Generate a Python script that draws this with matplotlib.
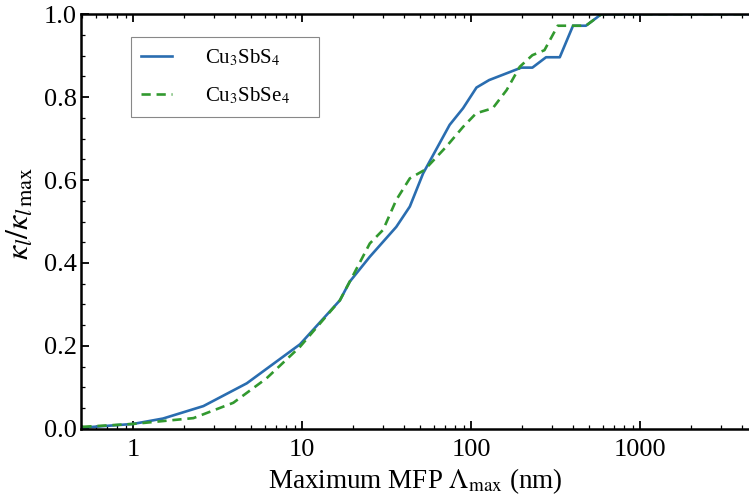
import numpy as np
import matplotlib
matplotlib.use("Agg")
import matplotlib.pyplot as plt
from matplotlib.ticker import MultipleLocator, LogLocator, NullFormatter, FixedLocator, FixedFormatter

plt.rcParams['font.family'] = ['Liberation Serif', 'DejaVu Serif']
plt.rcParams['mathtext.fontset'] = 'stix'

# Cu3SbS4 cumulative kappa vs max MFP
mfp_s = [0.5, 1.0, 1.5, 2.6, 4.7, 9.7, 16.7, 19.1, 25.1, 36, 43.3, 51.9, 74.5,
         89.4, 107.4, 127.6, 197.7, 230, 277, 334, 400, 477, 589, 5000]
k_s = [0.003, 0.012, 0.025, 0.055, 0.11, 0.204, 0.31, 0.355, 0.415, 0.487,
       0.536, 0.616, 0.733, 0.773, 0.823, 0.841, 0.871, 0.871, 0.896, 0.896,
       0.972, 0.972, 1.0, 1.0]

# Cu3SbSe4
mfp_se = [0.5, 1.0, 2.27, 3.91, 6.15, 9.7, 16.7, 19.1, 25.1, 30.1, 36, 43.3,
          52.8, 71, 89.4, 107, 134, 162, 193.6, 230, 271, 325, 477, 589, 5000]
k_se = [0.005, 0.012, 0.026, 0.063, 0.122, 0.198, 0.31, 0.355, 0.447, 0.48,
        0.552, 0.604, 0.624, 0.68, 0.728, 0.761, 0.773, 0.817, 0.873, 0.901,
        0.913, 0.972, 0.972, 1.0, 1.0]

fig = plt.figure(figsize=(7.49, 5.04), dpi=100)
ax = fig.add_axes([0.108, 0.149, 0.892, 0.823])

ax.plot(mfp_s, k_s, color='#2a6db0', lw=1.9, label=r'Cu$_3$SbS$_4$      ')
ax.plot(mfp_se, k_se, color='#32992f', lw=1.9, ls=(0, (3.5, 2.2)),
        label=r'Cu$_3$SbSe$_4$    ')

ax.set_xscale('log')
ax.set_xlim(0.49, 4400)
ax.set_ylim(0, 1.0)

ax.xaxis.set_major_locator(FixedLocator([1, 10, 100, 1000]))
ax.xaxis.set_major_formatter(FixedFormatter(['1', '10', '100', '1000']))
ax.xaxis.set_minor_locator(LogLocator(base=10, subs=np.arange(2, 10)))
ax.xaxis.set_minor_formatter(NullFormatter())
ax.yaxis.set_major_locator(MultipleLocator(0.2))
ax.yaxis.set_minor_locator(MultipleLocator(0.05))
ax.yaxis.set_major_formatter(plt.FuncFormatter(lambda v, p: f'{v:.1f}'))

ax.tick_params(which='both', direction='in', top=True, right=False,
               labelsize=19, width=1.3, colors='black')
ax.tick_params(which='major', length=6)
ax.tick_params(which='minor', length=3, width=0.9)
ax.tick_params(axis='x', pad=7)
ax.tick_params(axis='y', pad=3)

for s in ['left', 'bottom', 'top']:
    ax.spines[s].set_linewidth(1.8)
ax.spines['right'].set_visible(False)

ax.set_xlabel(r'Maximum MFP $\Lambda_{\rm max}$ (nm)', fontsize=19.5, labelpad=4)
ax.set_ylabel(r'$\kappa_l/{\kappa_l}_{\rm max}$', fontsize=23, labelpad=2)
ax.yaxis.set_label_coords(-0.068, 0.52)

leg = ax.legend(loc='upper left', bbox_to_anchor=(0.075, 0.945), fontsize=15,
                fancybox=False, edgecolor='#888888', framealpha=1,
                handlelength=1.45, handletextpad=1.6, borderpad=0.5,
                labelspacing=0.85, borderaxespad=0)
leg.get_frame().set_linewidth(0.8)

fig.savefig('out.png', dpi=100)
